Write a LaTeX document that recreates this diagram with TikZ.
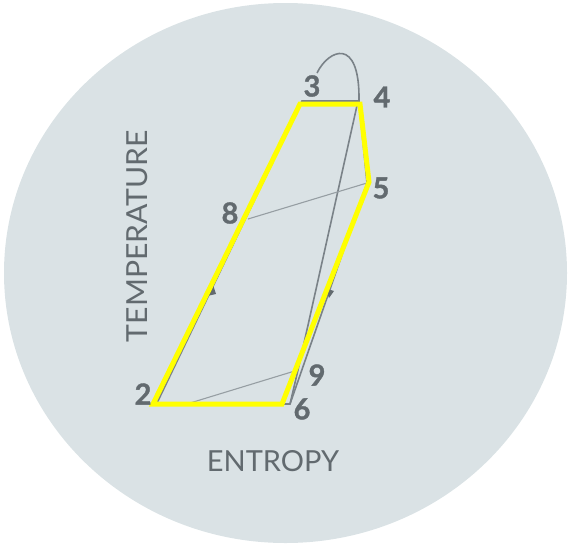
\documentclass[tikz,border=0pt]{standalone}
\usepackage{fontspec}
\setmainfont{Lato}
\newfontfamily\numfont[BoldFeatures={FakeBold=1.2}]{Lato}
\definecolor{bgc}{RGB}{218,226,229}
\definecolor{linec}{RGB}{122,130,136}
\definecolor{thinc}{RGB}{150,158,163}
\definecolor{labc}{RGB}{98,106,111}
\definecolor{yel}{RGB}{255,255,0}
\tikzset{
  cyc/.style={draw=linec, line width=1.6pt},
  thin/.style={draw=thinc, line width=1.1pt},
  hl/.style={draw=yel, line width=5pt, line join=miter},
  num/.style={text=labc, font=\fontsize{29}{29}\selectfont\numfont\bfseries, inner sep=0pt},
  axl/.style={text=labc, font=\fontsize{29}{29}\selectfont, inner sep=0pt},
  tip/.style={fill=labc, draw=none}
}
\begin{document}
\begin{tikzpicture}[x=1pt,y=-1pt]
\useasboundingbox (0,0) rectangle (570,544);
\fill[bgc] (285.5,273) ellipse [x radius=281.5, y radius=270];
% cycle points (grey)
\coordinate (g2) at (157,403);
\coordinate (g3) at (302,101);
\coordinate (g4) at (359,101);
\coordinate (g5) at (367,183);
\coordinate (g6) at (290,404);
\coordinate (g8) at (248,219);
\coordinate (g9) at (298,370);
\coordinate (gb) at (190,403);
\coordinate (d0) at (317,73);
\coordinate (gm) at (358,101);
% highlighted points
\coordinate (y2) at (153,404);
\coordinate (y3) at (300,104);
\coordinate (y4) at (360,104);
\coordinate (y5) at (369,182);
\coordinate (y6) at (282,404);
% grey cycle
\draw[cyc] (g2) -- (g3) -- (g4) -- (g5) -- (g6) -- cycle;
\draw[cyc] (gm) -- (g9) -- (g6);
\draw[cyc] (d0) .. controls (328,50) and (360,35) .. (g4);
\draw[thin] (g8) -- (g5);
\draw[thin] (gb) -- (g9);
% small arrow tips
\fill[tip] (213,285) -- (207,296) -- (216,294) -- cycle;
\fill[tip] (329,298) -- (325,288) -- (334,291) -- cycle;
% yellow highlight
\draw[hl] (y2) -- (y3) -- (y4) -- (y5) -- (y6) -- cycle;
% labels
\node[num] (l3) at (312,86) {3};
\node[num] (l4) at (382,97) {4};
\node[num] (l5) at (381,188) {5};
\node[num] (l8) at (230,213) {8};
\node[num] (l9) at (317,375) {9};
\node[num] (l6) at (302,409) {6};
\node[num] (l2) at (143,394) {2};
\node[axl, rotate=90, xscale=1.04] (temp) at (137,236) {TEMPERATURE};
\node[axl] (ent) at (273,461) {ENTROPY};
\end{tikzpicture}
\end{document}
